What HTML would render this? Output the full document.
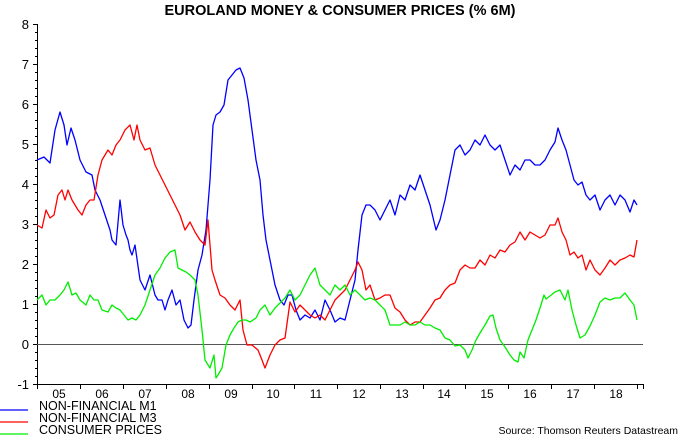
<!DOCTYPE html>
<html><head><meta charset="utf-8"><style>
body{margin:0;background:#fff;width:680px;height:436px;overflow:hidden}
svg text{font-family:"Liberation Sans",Arial,sans-serif}
</style></head><body>
<svg width="680" height="436" viewBox="0 0 680 436" xmlns="http://www.w3.org/2000/svg">
<text x="340" y="15" text-anchor="middle" font-size="14.5" font-weight="bold">EUROLAND MONEY &amp; CONSUMER PRICES (% 6M)</text>
<g stroke="#000" stroke-width="1" fill="none">
<line x1="37.5" y1="24" x2="37.5" y2="384"/>
<line x1="37" y1="384.5" x2="643" y2="384.5"/>
<line x1="37" y1="344.5" x2="643" y2="344.5" stroke="#555"/>
<path id="yt" d="M33 24.5h4M33 64.5h4M33 104.5h4M33 144.5h4M33 184.5h4M33 224.5h4M33 264.5h4M33 304.5h4M33 344.5h4M33 384.5h4"/>
<path d="M35 32.5h2M35 40.5h2M35 48.5h2M35 56.5h2M35 72.5h2M35 80.5h2M35 88.5h2M35 96.5h2M35 112.5h2M35 120.5h2M35 128.5h2M35 136.5h2M35 152.5h2M35 160.5h2M35 168.5h2M35 176.5h2M35 192.5h2M35 200.5h2M35 208.5h2M35 216.5h2M35 232.5h2M35 240.5h2M35 248.5h2M35 256.5h2M35 272.5h2M35 280.5h2M35 288.5h2M35 296.5h2M35 312.5h2M35 320.5h2M35 328.5h2M35 336.5h2M35 352.5h2M35 360.5h2M35 368.5h2M35 376.5h2"/>
<path d="M37.5 384v5M80.5 384v5M123.5 384v5M166.5 384v5M209.5 384v5M252.5 384v5M294.5 384v5M337.5 384v5M380.5 384v5M423.5 384v5M465.5 384v5M508.5 384v5M551.5 384v5M594.5 384v5M637.5 384v5M643.5 384v5"/>
</g>
<g font-size="13" text-anchor="end">
<text x="29" y="29">8</text><text x="29" y="69">7</text><text x="29" y="109">6</text><text x="29" y="149">5</text><text x="29" y="189">4</text><text x="29" y="229">3</text><text x="29" y="269">2</text><text x="29" y="309">1</text><text x="29" y="349">0</text><text x="29" y="389">-1</text>
</g>
<g font-size="12" text-anchor="middle">
<text x="59" y="398">05</text><text x="102" y="398">06</text><text x="145" y="398">07</text><text x="188" y="398">08</text><text x="231" y="398">09</text><text x="273" y="398">10</text><text x="316" y="398">11</text><text x="359" y="398">12</text><text x="402" y="398">13</text><text x="444" y="398">14</text><text x="487" y="398">15</text><text x="530" y="398">16</text><text x="573" y="398">17</text><text x="616" y="398">18</text>
</g>
<g fill="none" stroke-width="1.3" stroke-linejoin="round">
<polyline stroke="#0000ff" points="37,160 44,157 50,163 55,130 60,112 64,125 67,145 71,128 75,140 80,160 86,172 92,175 95,190 100,200 105,215 110,230 112,240 116,245 120,200 123,225 126,235 128,240 130,250 132,255 135,245 140,280 145,290 150,275 155,295 158,300 162,300 165,310 168,300 172,290 176,305 180,300 184,320 188,328 191,325 194,300 198,270 202,255 206,230 210,180 213,125 216,115 220,112 224,105 228,80 232,75 236,70 240,68 244,78 248,100 252,130 256,160 260,180 263,215 266,240 270,260 275,285 280,300 284,305 288,295 292,295 296,310 300,320 305,315 310,318 315,310 320,320 325,300 330,310 335,322 340,318 345,320 350,300 355,280 358,250 362,215 366,205 370,205 375,210 380,220 385,210 390,200 395,215 400,195 405,200 410,185 415,190 420,175 425,190 430,205 436,230 440,220 445,200 450,175 455,150 460,145 465,155 470,150 475,140 480,145 485,135 490,145 495,150 500,145 505,160 510,175 515,165 520,170 525,160 530,160 535,165 540,165 545,160 550,150 555,142 558,128 562,140 566,150 570,165 574,180 578,185 582,182 586,195 590,200 595,195 600,210 605,200 610,195 615,205 620,195 625,200 630,212 634,200 637,205"/>
<polyline stroke="#ff0000" points="37,225 42,228 46,210 50,218 54,215 58,195 62,190 65,200 68,190 72,200 78,210 82,215 86,205 90,200 94,200 98,175 102,160 108,150 112,155 116,145 120,140 125,130 130,125 134,140 137,125 140,140 145,150 150,148 155,165 160,175 165,185 170,195 175,205 180,215 185,230 190,222 195,232 200,240 205,245 208,220 212,270 215,280 220,295 225,298 230,305 235,310 240,300 243,330 247,345 252,345 258,350 262,360 265,368 270,355 275,345 280,340 285,338 290,302 295,312 300,305 305,310 310,315 315,318 320,315 325,320 330,310 335,300 340,295 345,290 350,280 355,270 358,262 362,270 366,290 370,285 375,300 380,298 385,295 390,295 395,308 400,312 405,320 410,325 415,322 420,322 425,315 430,308 435,300 440,298 445,290 450,285 455,283 460,270 465,265 470,268 475,268 480,260 485,265 490,255 495,258 500,250 505,252 510,245 515,242 520,232 525,240 530,232 535,235 540,238 545,235 550,225 555,225 558,218 562,232 566,240 570,255 574,252 578,258 582,255 586,270 590,260 595,270 600,275 605,268 610,260 615,265 620,260 625,258 630,255 634,257 637,240"/>
<polyline stroke="#00ee00" points="37,300 42,295 46,305 50,300 55,300 60,295 64,290 68,282 72,295 76,293 80,300 86,305 90,295 94,300 98,300 102,310 108,312 112,305 116,308 120,310 124,315 128,320 132,318 136,320 140,315 145,305 150,290 155,275 160,268 165,258 170,252 175,250 178,268 182,270 186,272 190,275 195,280 198,295 202,330 205,360 210,368 214,355 216,378 218,375 222,368 226,345 230,335 234,328 238,322 242,320 246,320 250,322 256,318 260,310 265,305 270,315 275,308 280,303 285,298 290,290 295,300 300,295 305,285 310,275 315,268 320,285 325,290 330,295 335,285 340,290 345,285 350,295 355,290 360,295 365,300 370,298 375,300 380,305 385,310 390,325 395,325 400,325 405,322 410,325 415,325 420,322 425,325 430,325 435,328 440,330 445,338 450,340 455,346 460,345 465,350 468,358 472,350 476,340 480,333 485,325 490,316 493,315 496,328 500,340 505,347 510,355 514,360 518,362 520,352 524,358 528,340 532,330 536,320 540,308 544,295 546,299 550,296 555,292 560,290 565,300 568,290 572,310 576,325 580,338 585,335 590,326 595,315 600,302 605,298 610,300 615,298 620,298 625,293 630,300 634,305 637,320"/>
</g>
<g stroke-width="1.3">
<line x1="0" y1="410" x2="28" y2="410" stroke="#0000ff"/>
<line x1="0" y1="422" x2="28" y2="422" stroke="#ff0000"/>
<line x1="0" y1="434" x2="28" y2="434" stroke="#00ee00"/>
</g>
<g font-size="12.5">
<text x="39" y="410">NON-FINANCIAL M1</text>
<text x="39" y="422">NON-FINANCIAL M3</text>
<text x="39" y="434">CONSUMER PRICES</text>
</g>
<text x="678" y="434" font-size="10.5" text-anchor="end">Source: Thomson Reuters Datastream</text>
</svg>
</body></html>
